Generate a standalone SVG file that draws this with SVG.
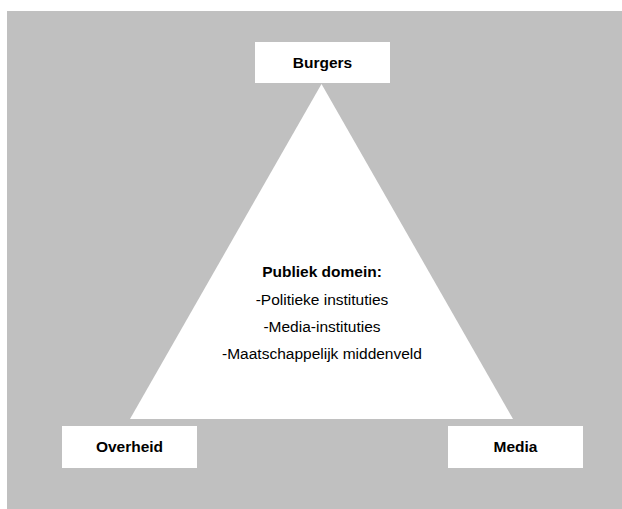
<svg xmlns="http://www.w3.org/2000/svg" width="622" height="509" viewBox="0 0 622 509">
<style>
.box{fill:#ffffff}
.lbl{font-family:"Liberation Sans",Arial,sans-serif;font-size:15.5px;font-weight:bold;fill:#000;text-anchor:middle}
.txt{font-family:"Liberation Sans",Arial,sans-serif;font-size:15.5px;fill:#000;text-anchor:middle}
</style>
<rect x="7" y="11" width="615" height="498" fill="#c0c0c0"/>
<g id="triangle">
<polygon points="321.5,84 513,419 130,419" fill="#ffffff"/>
<text class="lbl" x="322" y="277">Publiek domein:</text>
<text class="txt" x="322" y="304.5">-Politieke instituties</text>
<text class="txt" x="322" y="332">-Media-instituties</text>
<text class="txt" x="322" y="359">-Maatschappelijk middenveld</text>
</g>
<g id="connectors"></g>
<g id="burgers">
<rect class="box" x="255" y="42" width="135" height="41"/>
<text class="lbl" x="322.5" y="67.5">Burgers</text>
</g>
<g id="overheid">
<rect class="box" x="62" y="426" width="135" height="42"/>
<text class="lbl" x="129.5" y="452">Overheid</text>
</g>
<g id="media">
<rect class="box" x="448" y="426" width="135" height="42"/>
<text class="lbl" x="515.5" y="452">Media</text>
</g>
</svg>
